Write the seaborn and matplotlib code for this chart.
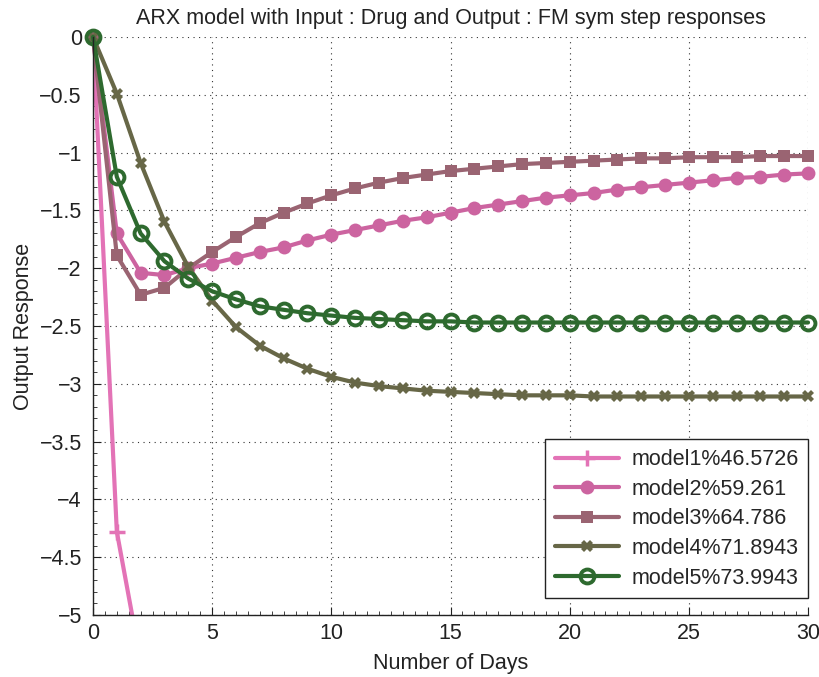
import numpy as np
import pandas as pd
import matplotlib
matplotlib.use("Agg")
import matplotlib.pyplot as plt
from matplotlib.ticker import MultipleLocator
import seaborn as sns

sns.set_theme(style="white")
plt.rcParams["font.family"] = ["Liberation Sans", "DejaVu Sans"]

days = list(range(31))

model1 = [0.0, -4.28, -5.40, -6.30]
model2 = [0.0, -1.70, -2.04, -2.06, -2.00, -1.96, -1.91, -1.86, -1.82, -1.76,
          -1.71, -1.67, -1.63, -1.59, -1.56, -1.52, -1.48, -1.45, -1.42, -1.39,
          -1.37, -1.35, -1.32, -1.30, -1.28, -1.26, -1.24, -1.22, -1.21, -1.19, -1.18]
model3 = [0.0, -1.89, -2.23, -2.17, -2.00, -1.86, -1.73, -1.61, -1.52, -1.44,
          -1.37, -1.31, -1.26, -1.22, -1.19, -1.16, -1.14, -1.12, -1.10, -1.09,
          -1.08, -1.07, -1.06, -1.05, -1.05, -1.04, -1.04, -1.04, -1.03, -1.03, -1.03]
model4 = [0.0, -0.49, -1.09, -1.60, -1.99, -2.28, -2.51, -2.67, -2.78, -2.87,
          -2.94, -2.99, -3.02, -3.04, -3.06, -3.07, -3.08, -3.09, -3.10, -3.10,
          -3.10, -3.11, -3.11, -3.11, -3.11, -3.11, -3.11, -3.11, -3.11, -3.11, -3.11]
model5 = [0.0, -1.21, -1.70, -1.94, -2.09, -2.20, -2.27, -2.33, -2.36, -2.39,
          -2.41, -2.43, -2.44, -2.45, -2.46, -2.46, -2.47, -2.47, -2.47, -2.47,
          -2.47, -2.47, -2.47, -2.47, -2.47, -2.47, -2.47, -2.47, -2.47, -2.47, -2.47]

labels = ["model1%46.5726", "model2%59.261", "model3%64.786",
          "model4%71.8943", "model5%73.9943"]
series = [model1, model2, model3, model4, model5]
colors = ["#E373B6", "#CC64A0", "#9A6472", "#676747", "#2E6A2F"]

FS = 15.5

fig = plt.figure(figsize=(8.2, 6.77), dpi=100)
ax = fig.add_axes([0.1134, 0.0916, 0.872, 0.8538])

styles = [
    dict(marker="+", markersize=11, markeredgewidth=2.5, clip_on=True),
    dict(marker="o", markersize=10, markeredgewidth=0, clip_on=False),
    dict(marker="s", markersize=9, markeredgewidth=0, clip_on=False),
    dict(marker="X", markersize=9, markeredgewidth=0, clip_on=False),
    dict(marker="o", markersize=10, markeredgewidth=2.8,
         markerfacecolor="none", clip_on=False),
]

for vals, lab, col, st in zip(series, labels, colors, styles):
    df = pd.DataFrame({"day": days[:len(vals)], "resp": vals})
    sns.lineplot(data=df, x="day", y="resp", ax=ax, color=col, label=lab,
                 linewidth=3.0, markeredgecolor=col, **st)

ax.set_xlim(0, 30)
ax.set_ylim(-5, 0)
ax.xaxis.set_major_locator(MultipleLocator(5))
ax.xaxis.set_minor_locator(MultipleLocator(0.5))
ax.yaxis.set_minor_locator(MultipleLocator(0.1))
ax.set_yticks(np.arange(-5, 0.01, 0.5))
ax.set_yticklabels(["\u22125", "\u22124.5", "\u22124", "\u22123.5", "\u22123",
                    "\u22122.5", "\u22122", "\u22121.5", "\u22121", "\u22120.5", "0"])
ax.tick_params(axis="both", which="major", direction="in", length=6, width=0.8,
               labelsize=FS, colors="#222222")
ax.tick_params(axis="y", which="major", pad=8)
ax.tick_params(axis="x", which="major", pad=6)
ax.tick_params(axis="both", which="minor", direction="in", length=3, width=0.6,
               colors="#222222")
ax.tick_params(axis="x", which="both", bottom=True)
ax.tick_params(axis="y", which="both", left=True)

ax.grid(True, which="major", linestyle=(0, (1, 4)), color="#333333", linewidth=0.8)
for side in ["top", "right"]:
    ax.spines[side].set_visible(False)
for side in ["left", "bottom"]:
    ax.spines[side].set_color("#222222")
    ax.spines[side].set_linewidth(1.0)

ax.set_xlabel("Number of Days", fontsize=FS, color="#222222", labelpad=6)
ax.set_ylabel("Output Response", fontsize=FS, color="#222222", labelpad=4)
ax.set_title("ARX model with Input : Drug and Output : FM sym step responses",
             fontsize=FS, color="#222222", pad=9)

leg = ax.legend(loc="lower right", bbox_to_anchor=(1.0, 0.029), fontsize=FS,
                frameon=True, fancybox=False, edgecolor="#222222",
                handlelength=3.0, borderpad=0.45, labelspacing=0.4,
                handletextpad=0.55, borderaxespad=0.0)
leg.get_frame().set_linewidth(1.0)
leg.get_frame().set_alpha(1)

fig.savefig("out.png", dpi=100, facecolor="white")
